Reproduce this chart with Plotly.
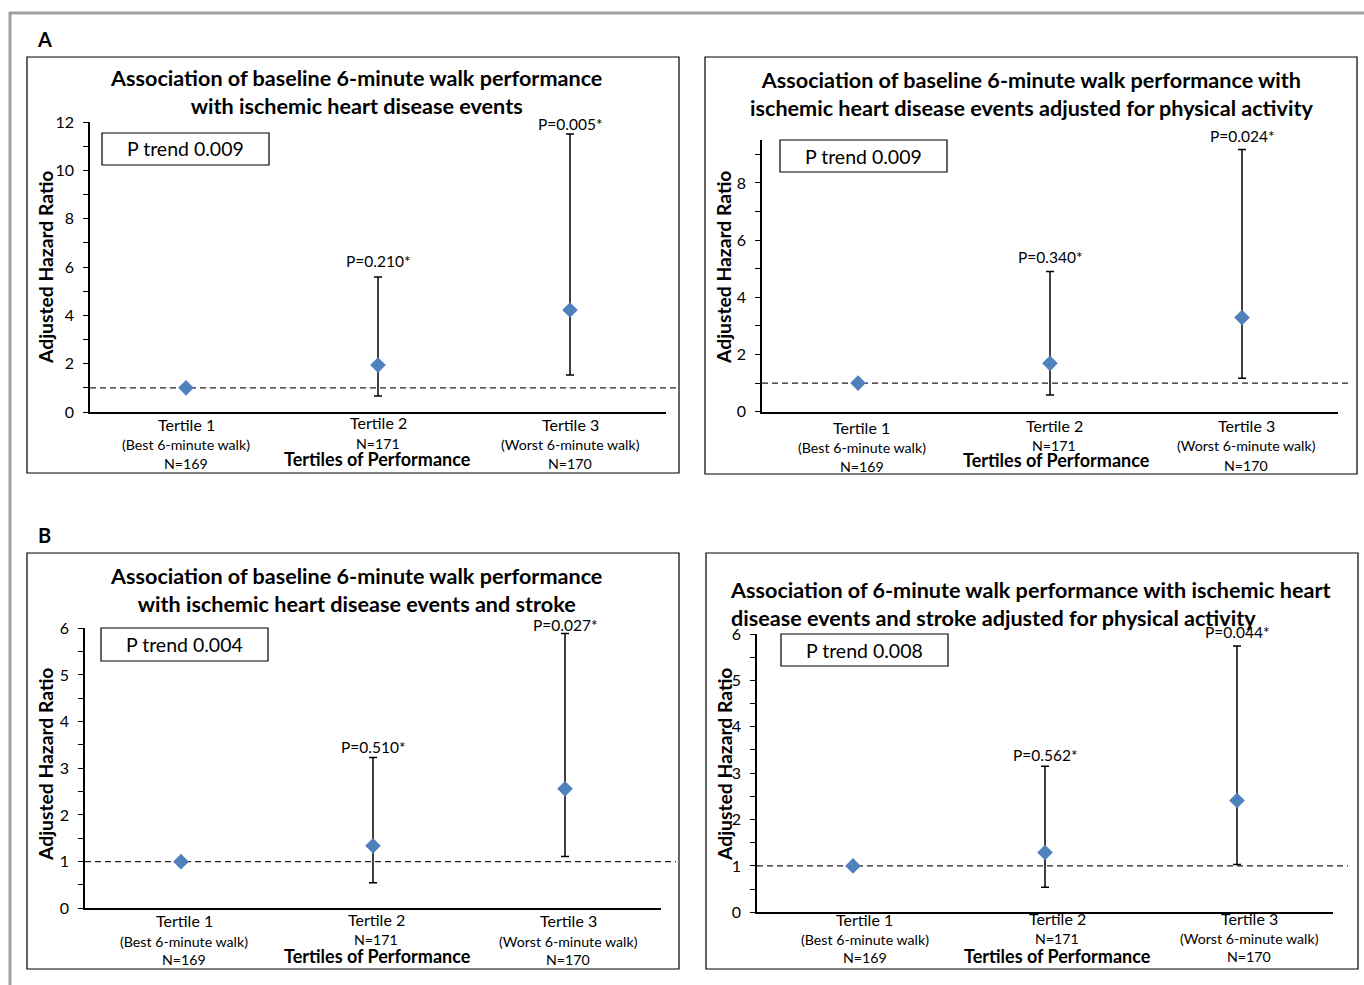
import plotly.graph_objects as go

W, H = 1364, 985

# ---------------- data ----------------
categories = ["Tertile 1", "Tertile 2", "Tertile 3"]
sub_labels = ["(Best 6-minute walk)", "", "(Worst 6-minute walk)"]
n_labels = ["N=169", "N=171", "N=170"]
x_title = "Tertiles of Performance"
y_title = "Adjusted Hazard Ratio"

titles = [
    "Association of baseline 6-minute walk performance<br>with ischemic heart disease events",
    "Association of baseline 6-minute walk performance with<br>ischemic heart disease events adjusted for physical activity",
    "Association of baseline 6-minute walk performance<br>with ischemic heart disease events and stroke",
    "Association of 6-minute walk performance with ischemic heart<br>disease events and stroke adjusted for physical activity",
]
p_trends = ["P trend 0.009", "P trend 0.009", "P trend 0.004", "P trend 0.008"]

hr_A1 = [1.0, 1.94, 4.22]
upper_A1 = [1.0, 5.59, 11.5]
lower_A1 = [1.0, 0.66, 1.53]
pvals_A1 = ["", "P=0.210*", "P=0.005*"]

hr_A2 = [1.0, 1.69, 3.29]
upper_A2 = [1.0, 4.90, 9.17]
lower_A2 = [1.0, 0.58, 1.17]
pvals_A2 = ["", "P=0.340*", "P=0.024*"]

hr_B1 = [1.0, 1.34, 2.56]
upper_B1 = [1.0, 3.23, 5.89]
lower_B1 = [1.0, 0.55, 1.11]
pvals_B1 = ["", "P=0.510*", "P=0.027*"]

hr_B2 = [1.0, 1.29, 2.41]
upper_B2 = [1.0, 3.15, 5.74]
lower_B2 = [1.0, 0.54, 1.03]
pvals_B2 = ["", "P=0.562*", "P=0.044*"]

y_max = [12, 9.5, 6, 6]
y_dtick = [2, 2, 1, 1]
section_labels = ["A", "B"]

# ---------------- layout geometry (pixels) ----------------
panels = [
    dict(box=(27, 57, 679, 473), xpx=(90, 666), ypx=(122, 412), title_xy=(356, 77), talign="center",
         ptb=(102, 133, 269, 165), ytx=(45, 268), ty=[424, 422, 424], sy=[444, None, 444],
         ny=[463, 443, 463], perf=(378, 459), dash_end=676, shift=0, pshift=[0, 5, -1]),
    dict(box=(705, 57, 1357, 474), xpx=(762, 1338), ypx=(140, 411.7), title_xy=(1031, 79), talign="center",
         ptb=(780, 140, 947, 172), ytx=(723, 268), ty=[427, 425, 425], sy=[447, None, 445],
         ny=[466, 445, 465], perf=(1056, 460), dash_end=1352, shift=4, pshift=[0, 4, 2]),
    dict(box=(27, 553, 679, 969), xpx=(85, 661), ypx=(628.3, 908.3), title_xy=(356, 575), talign="center",
         ptb=(101, 628, 268, 661), ytx=(45, 765), ty=[920, 919, 920], sy=[941, None, 941],
         ny=[959, 939, 959], perf=(378, 956), dash_end=676, shift=3, pshift=[0, 0, -3]),
    dict(box=(706, 553, 1358, 969), xpx=(757, 1333), ypx=(634, 912.3), title_xy=(728, 589), talign="left",
         ptb=(781, 634, 948, 666), ytx=(724, 765), ty=[919, 918, 918], sy=[939, None, 938],
         ny=[957, 938, 956], perf=(1057, 956), dash_end=1348, shift=12, pshift=[0, 0, 3]),
]
series = [
    (hr_A1, upper_A1, lower_A1, pvals_A1),
    (hr_A2, upper_A2, lower_A2, pvals_A2),
    (hr_B1, upper_B1, lower_B1, pvals_B1),
    (hr_B2, upper_B2, lower_B2, pvals_B2),
]

FONT = "Lato"


def PX(x):
    return x / W


def PY(y):
    return 1 - y / H


fig = go.Figure()
shapes = []
annotations = []

xs = list(range(len(categories)))

for i, (p, (hr, up, lo, pv)) in enumerate(zip(panels, series)):
    k = "" if i == 0 else str(i + 1)
    xa, ya = "x" + k, "y" + k
    fig.add_trace(go.Scatter(
        x=xs, y=hr, mode="markers", xaxis=xa, yaxis=ya, showlegend=False,
        marker=dict(symbol="diamond", size=12, color="#4F81BD"),
        error_y=dict(type="data", symmetric=False,
                     array=[u - h for u, h in zip(up, hr)],
                     arrayminus=[h - l for h, l in zip(hr, lo)],
                     color="black", thickness=1.5, width=4),
    ))
    fig.layout["xaxis" + k] = dict(
        domain=[PX(p["xpx"][0]), PX(p["xpx"][1])], range=[-0.5, 2.5], anchor=ya,
        showline=True, linecolor="black", linewidth=1.5, showgrid=False, zeroline=False,
        showticklabels=False, ticks="", fixedrange=True, automargin=False,
    )
    fig.layout["yaxis" + k] = dict(
        domain=[PY(p["ypx"][1]), PY(p["ypx"][0])], range=[0, y_max[i]], anchor=xa,
        showline=True, linecolor="black", linewidth=1.5, showgrid=False, zeroline=False,
        ticks="outside", ticklen=5, tickwidth=1.2, tickcolor="black", dtick=y_dtick[i],
        tickfont=dict(family=FONT, size=16, color="black"), ticklabelstandoff=6,
        minor=dict(ticks="outside", dtick=y_dtick[i] / 2, ticklen=5, tickwidth=1.2, tickcolor="black"),
        fixedrange=True, automargin=False,
    )
    # panel border
    x0, y0, x1, y1 = p["box"]
    shapes.append(dict(type="rect", xref="paper", yref="paper", x0=PX(x0), x1=PX(x1), y0=PY(y1), y1=PY(y0),
                       line=dict(color="black", width=1.2), layer="below"))
    # reference line HR = 1
    shapes.append(dict(type="line", xref="paper", yref=ya, x0=PX(p["xpx"][0]), x1=PX(p["dash_end"]), y0=1, y1=1,
                       line=dict(color="#222222", width=1.1, dash="6px,4px"), layer="below"))
    # P trend box
    bx0, by0, bx1, by1 = p["ptb"]
    shapes.append(dict(type="rect", xref="paper", yref="paper", x0=PX(bx0), x1=PX(bx1), y0=PY(by1), y1=PY(by0),
                       line=dict(color="black", width=1.2), fillcolor="white"))
    annotations.append(dict(xref="paper", yref="paper", x=PX((bx0 + bx1) / 2), y=PY((by0 + by1) / 2),
                            text=p_trends[i], showarrow=False, xanchor="center", yanchor="middle",
                            font=dict(family=FONT, size=19.5, color="black")))
    # title
    tx, ty = p["title_xy"]
    annotations.append(dict(xref="paper", yref="paper", x=PX(tx), y=PY(ty - 14),
                            text="<b>" + titles[i].replace("<br>", "</b><br><b>") + "</b>", showarrow=False,
                            xanchor="center" if p["talign"] == "center" else "left",
                            yanchor="top", align=p["talign"],
                            font=dict(family=FONT, size=21.6, color="black")))
    # y title
    annotations.append(dict(xref="paper", yref="paper", x=PX(p["ytx"][0]), y=PY(p["ytx"][1]),
                            text="<b>%s</b>" % y_title, textangle=-90, showarrow=False,
                            xanchor="center", yanchor="middle",
                            font=dict(family=FONT, size=19.3, color="black")))
    # x category labels
    for j in xs:
        annotations.append(dict(xref=xa, yref="paper", x=j, y=PY(p["ty"][j]), text=categories[j],
                                showarrow=False, xanchor="center", yanchor="middle", xshift=p["shift"],
                                font=dict(family=FONT, size=16, color="black")))
        if sub_labels[j] and p["sy"][j] is not None:
            annotations.append(dict(xref=xa, yref="paper", x=j, y=PY(p["sy"][j]), text=sub_labels[j],
                                    showarrow=False, xanchor="center", yanchor="middle", xshift=p["shift"],
                                    font=dict(family=FONT, size=14.2, color="black")))
        annotations.append(dict(xref=xa, yref="paper", x=j, y=PY(p["ny"][j]), text=n_labels[j],
                                showarrow=False, xanchor="center", yanchor="middle", xshift=p["shift"],
                                font=dict(family=FONT, size=14.2, color="black")))
        if pv[j]:
            annotations.append(dict(xref=xa, yref=ya, x=j, y=up[j], text=pv[j], showarrow=False,
                                    xanchor="center", yanchor="bottom", yshift=p["pshift"][j],
                                    font=dict(family=FONT, size=15.5, color="black")))
    # x axis title
    annotations.append(dict(xref="paper", yref="paper", x=PX(p["perf"][0]), y=PY(p["perf"][1]),
                            text="<b>%s</b>" % x_title, showarrow=False, xanchor="center", yanchor="middle",
                            font=dict(family=FONT, size=18, color="black")))

# section labels
for lab, yy in zip(section_labels, [39, 535]):
    annotations.append(dict(xref="paper", yref="paper", x=PX(44), y=PY(yy), text="<b>%s</b>" % lab,
                            showarrow=False, xanchor="center", yanchor="middle",
                            font=dict(family=FONT, size=20, color="black")))

# outer gray frame
shapes.append(dict(type="line", xref="paper", yref="paper", x0=PX(9), x1=1, y0=PY(13), y1=PY(13),
                   line=dict(color="#a0a0a0", width=3)))
shapes.append(dict(type="line", xref="paper", yref="paper", x0=PX(10), x1=PX(10), y0=PY(12), y1=0,
                   line=dict(color="#a0a0a0", width=3)))

fig.update_layout(
    width=W, height=H, margin=dict(l=0, r=0, t=0, b=0, autoexpand=False),
    paper_bgcolor="white", plot_bgcolor="rgba(0,0,0,0)",
    shapes=shapes, annotations=annotations, showlegend=False,
    font=dict(family=FONT, color="black"),
)

fig.write_html(
    "out.html",
    config={"displayModeBar": False},
    post_script=(
        "document.documentElement.style.margin='0';"
        "document.documentElement.style.overflow='hidden';"
        "document.body.style.margin='0';document.body.style.padding='0';"
        "document.body.style.overflow='hidden';"
        "var gd=document.getElementById('{plot_id}');"
        "gd.style.position='fixed';gd.style.top='0px';gd.style.left='0px';"
    ),
)
